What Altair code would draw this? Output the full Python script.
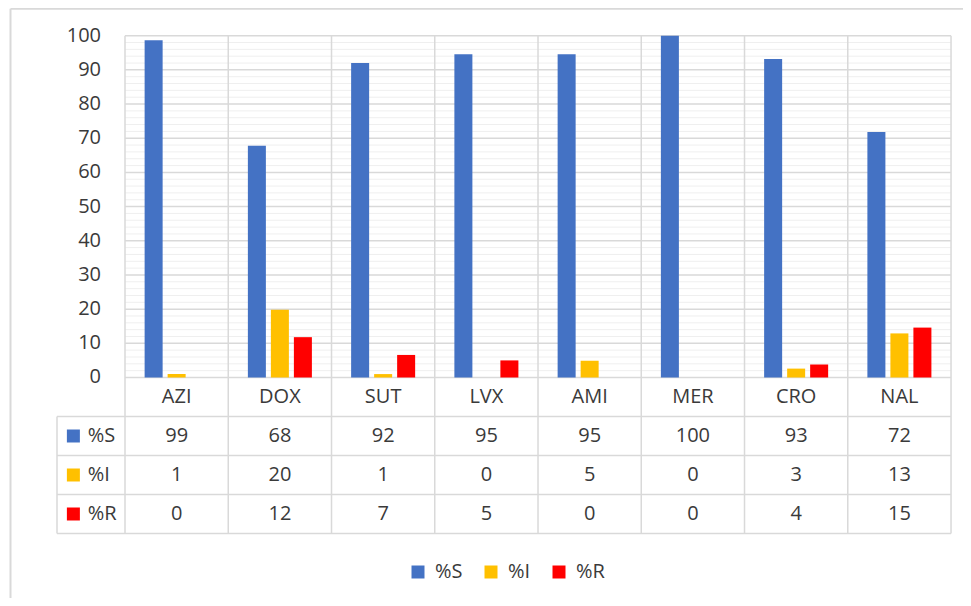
import altair as alt
import pandas as pd

# ---- data ----
categories = ["AZI", "DOX", "SUT", "LVX", "AMI", "MER", "CRO", "NAL"]
pct_S = [98.7, 67.8, 92.0, 94.6, 94.6, 100.0, 93.2, 71.8]
pct_I = [1.0, 19.8, 1.0, 0.0, 4.9, 0.0, 2.6, 12.9]
pct_R = [0.0, 11.8, 6.6, 5.0, 0.0, 0.0, 3.8, 14.6]
series = ["%S", "%I", "%R"]
colors = ["#4472C4", "#FFC000", "#FF0000"]
y_ticks = list(range(0, 101, 10))
minor_ticks = [v for v in range(0, 101, 2) if v % 10]

# ---- layout constants (scale units) ----
X_MIN, X_MAX = -1.1332, 8.116
Y_MIN, Y_MAX = -64.51, 108.1
ROW = 11.41
HDR = -0.6586
FONT = "Open Sans"
FS = 20
TXT = "#3a3a3a"
GRID = "#d9d9d9"
MINOR = "#efefef"

xs = alt.Scale(domain=[X_MIN, X_MAX], nice=False, zero=False)
ys = alt.Scale(domain=[Y_MIN, Y_MAX], nice=False, zero=False)
cs = alt.Scale(domain=series, range=colors)

rows = []
for j, (name, vals) in enumerate(zip(series, [pct_S, pct_I, pct_R])):
    for i, (c, v) in enumerate(zip(categories, vals)):
        rows.append(dict(cat=c, i=i, series=name, j=j, value=v))
df = pd.DataFrame(rows)
df_cat = pd.DataFrame({"cat": categories, "i": list(range(len(categories)))})
df_ser = pd.DataFrame({"series": series, "j": list(range(len(series)))})
df_y = pd.DataFrame({"v": y_ticks})
df_minor = pd.DataFrame({"v": minor_ticks})
df_vlines = pd.DataFrame({"k": list(range(len(categories) + 1))})
df_hlines = pd.DataFrame({"k": [1, 2, 3, 4]})


def X(field=None, datum=None):
    if datum is not None:
        return alt.X(datum=datum, type="quantitative", scale=xs, axis=None)
    return alt.X(field, type="quantitative", scale=xs, axis=None)


def Y(field=None, datum=None):
    if datum is not None:
        return alt.Y(datum=datum, type="quantitative", scale=ys, axis=None)
    return alt.Y(field, type="quantitative", scale=ys, axis=None)


base_df = pd.DataFrame({"d": [0]})
n = len(categories)

minor = alt.Chart(df_minor).mark_rule(color=MINOR, strokeWidth=1).encode(
    x=X(datum=0), x2=alt.X2(datum=n), y=Y("v"))
major = alt.Chart(df_y).mark_rule(color=GRID, strokeWidth=1.5).encode(
    x=X(datum=0), x2=alt.X2(datum=n), y=Y("v"))
vlines = alt.Chart(df_vlines).mark_rule(color=GRID, strokeWidth=1.5).encode(
    x=X("k"), y=Y(datum=-4 * ROW), y2=alt.Y2(datum=100))
hlines = alt.Chart(df_hlines).transform_calculate(
    yy=f"-datum.k * {ROW}").mark_rule(color=GRID, strokeWidth=1.5).encode(
    x=X(datum=HDR), x2=alt.X2(datum=n), y=Y("yy"))
leftline = alt.Chart(base_df).mark_rule(color=GRID, strokeWidth=1.5).encode(
    x=X(datum=HDR), y=Y(datum=-ROW), y2=alt.Y2(datum=-4 * ROW))
frame_l = alt.Chart(base_df).mark_rule(color=GRID, strokeWidth=2).encode(
    x=X(datum=-1.109), y=Y(datum=Y_MIN), y2=alt.Y2(datum=107.9))
frame_t = alt.Chart(base_df).mark_rule(color=GRID, strokeWidth=2).encode(
    x=X(datum=-1.109), x2=alt.X2(datum=X_MAX), y=Y(datum=107.9))

bars = alt.Chart(df).transform_calculate(
    x0="datum.i + 0.5 + (datum.j - 1) * 0.2228 - 0.0872",
    x1="datum.i + 0.5 + (datum.j - 1) * 0.2228 + 0.0872",
).mark_bar().encode(
    x=X("x0"), x2="x1", y=Y("value"), y2=alt.Y2(datum=0),
    color=alt.Color("series:N", scale=cs, legend=alt.Legend(
        orient="none", legendX=400, legendY=554, direction="horizontal",
        title=None, symbolType="square", symbolSize=169, symbolStrokeWidth=0,
        labelFontSize=FS, labelFont=FONT, labelColor=TXT, columnPadding=18,
        labelOffset=7, padding=0)),
)

ylabels = alt.Chart(df_y).mark_text(
    align="right", baseline="middle", font=FONT, fontSize=FS, color=TXT).encode(
    x=X(datum=-0.232), y=Y("v"), text=alt.Text("v:Q"))

catlabels = alt.Chart(df_cat).transform_calculate(
    xc="datum.i + 0.5", yc=f"-0.5 * {ROW}").mark_text(
    align="center", baseline="middle", font=FONT, fontSize=FS, color=TXT).encode(
    x=X("xc"), y=Y("yc"), text="cat:N")

values = alt.Chart(df).transform_calculate(
    xc="datum.i + 0.5", yc=f"-(datum.j + 1.5) * {ROW}").mark_text(
    align="center", baseline="middle", font=FONT, fontSize=FS, color=TXT).encode(
    x=X("xc"), y=Y("yc"), text=alt.Text("value:Q", format=".0f"))

hdr_sq = alt.Chart(df_ser).transform_calculate(
    yc=f"-(datum.j + 1.5) * {ROW}").mark_square(size=169, opacity=1).encode(
    x=X(datum=-0.5), y=Y("yc"), color=alt.Color("series:N", scale=cs, legend=None))

hdr_txt = alt.Chart(df_ser).transform_calculate(
    yc=f"-(datum.j + 1.5) * {ROW}").mark_text(
    align="left", baseline="middle", font=FONT, fontSize=FS, color=TXT).encode(
    x=X(datum=-0.36), y=Y("yc"), text="series:N")

chart = alt.layer(
    minor, major, vlines, hlines, leftline, frame_l, frame_t,
    bars, ylabels, catlabels, values, hdr_sq, hdr_txt,
).properties(
    width=955, height=590, padding=0, autosize="none", background="white",
).configure_view(stroke=None)

chart.save("out.html", embed_options={"renderer": "svg", "actions": False})
